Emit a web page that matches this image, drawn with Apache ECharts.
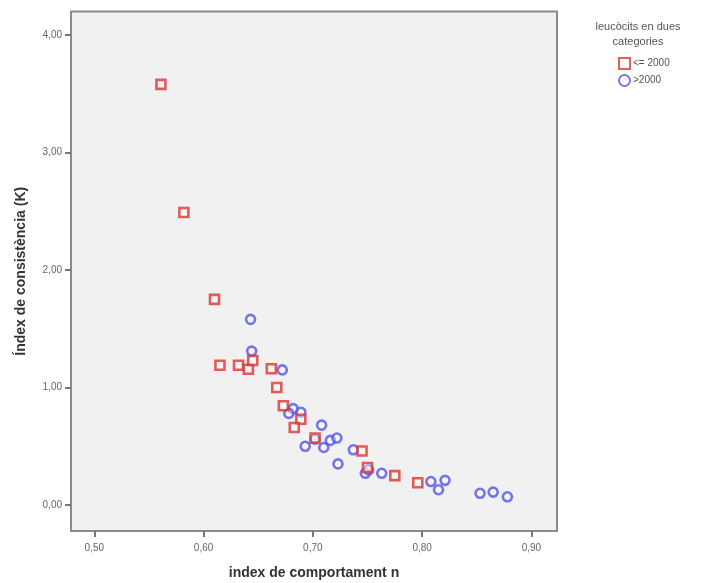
<!DOCTYPE html>
<html>
<head>
<meta charset="utf-8">
<script src="https://cdn.jsdelivr.net/npm/echarts@6/dist/echarts.min.js"></script>
<style>
  html, body { margin: 0; padding: 0; background: #ffffff; }
  #chart { width: 716px; height: 583px; }
</style>
</head>
<body>
<div id="chart"></div>
<script>
// Flow behaviour index n vs consistency index K, grouped by leukocyte count
const groupNames = ['<= 2000', '>2000'];

const lowN = [0.561, 0.582, 0.610, 0.615, 0.632, 0.641, 0.645, 0.662, 0.667, 0.673, 0.689, 0.683, 0.702, 0.745, 0.750, 0.775, 0.796];
const lowK = [3.58, 2.49, 1.75, 1.19, 1.19, 1.155, 1.23, 1.16, 1.00, 0.845, 0.73, 0.66, 0.57, 0.46, 0.32, 0.25, 0.19];

const highN = [0.643, 0.644, 0.672, 0.682, 0.678, 0.689, 0.708, 0.702, 0.693, 0.710, 0.716, 0.722, 0.723, 0.737, 0.748, 0.751, 0.763, 0.808, 0.815, 0.821, 0.853, 0.865, 0.878];
const highK = [1.58, 1.31, 1.15, 0.82, 0.78, 0.79, 0.68, 0.56, 0.50, 0.49, 0.55, 0.57, 0.35, 0.47, 0.27, 0.30, 0.27, 0.20, 0.13, 0.21, 0.10, 0.11, 0.07];

const xTicks = [0.5, 0.6, 0.7, 0.8, 0.9];
const yTicks = [0, 1, 2, 3, 4];

const pairs = (xs, ys) => xs.map((x, i) => [x, ys[i]]);
const fmt = v => v.toFixed(2).replace('.', ',');

const chart = echarts.init(document.getElementById('chart'), null, { renderer: 'canvas' });

const labelFont = { fontFamily: 'Arial, "Liberation Sans", sans-serif', fontSize: 10, color: '#666' };

chart.setOption({
  animation: false,
  backgroundColor: '#ffffff',
  title: {
    text: 'leucòcits en dues\ncategories',
    left: 633,
    top: 14,
    textAlign: 'center',
    textStyle: { fontFamily: 'Arial, "Liberation Sans", sans-serif', fontSize: 11, fontWeight: 'normal', color: '#555', lineHeight: 15 }
  },
  legend: {
    orient: 'vertical',
    left: 613,
    top: 52,
    itemWidth: 11,
    itemHeight: 11,
    itemGap: 4,
    textStyle: { fontFamily: 'Arial, "Liberation Sans", sans-serif', fontSize: 10, color: '#555', padding: [0, 0, 0, -2] },
    data: groupNames
  },
  grid: {
    left: 71,
    right: 159,
    top: 11.5,
    bottom: 52,
    outerBoundsMode: 'none',
    containLabel: false,
    show: true,
    backgroundColor: '#f1f1f1',
    borderColor: '#8a8a8a',
    borderWidth: 2
  },
  xAxis: {
    type: 'value',
    min: 0.4787,
    max: 0.9234,
    name: 'index de comportament n',
    nameLocation: 'middle',
    nameGap: 35,
    nameTextStyle: { fontFamily: 'Arial, "Liberation Sans", sans-serif', fontSize: 14, fontWeight: 'bold', color: '#333' },
    axisLine: { show: false, onZero: false },
    axisTick: { show: true, length: 6, lineStyle: { color: '#777', width: 2 }, customValues: xTicks },
    axisLabel: { ...labelFont, margin: 12, customValues: xTicks, formatter: fmt },
    splitLine: { show: false }
  },
  yAxis: {
    type: 'value',
    min: -0.221,
    max: 4.2,
    name: 'Índex de consistència (K)',
    nameLocation: 'middle',
    nameGap: 43,
    nameRotate: 90,
    nameTextStyle: { fontFamily: 'Arial, "Liberation Sans", sans-serif', fontSize: 14, fontWeight: 'bold', color: '#333' },
    axisLine: { show: false, onZero: false },
    axisTick: { show: true, length: 6, lineStyle: { color: '#777', width: 2 }, customValues: yTicks },
    axisLabel: { ...labelFont, margin: 9, customValues: yTicks, formatter: fmt },
    splitLine: { show: false }
  },
  series: [
    {
      name: groupNames[0],
      type: 'scatter',
      symbol: 'rect',
      symbolSize: 9,
      z: 3,
      itemStyle: { color: 'rgba(255,255,255,0.55)', borderColor: '#dd3535', borderWidth: 2.6 },
      data: pairs(lowN, lowK)
    },
    {
      name: groupNames[1],
      type: 'scatter',
      symbol: 'circle',
      symbolSize: 9,
      z: 2,
      itemStyle: { color: 'rgba(255,255,255,0.45)', borderColor: '#5555e3', borderWidth: 2.6 },
      data: pairs(highN, highK)
    }
  ]
});
</script>
</body>
</html>
